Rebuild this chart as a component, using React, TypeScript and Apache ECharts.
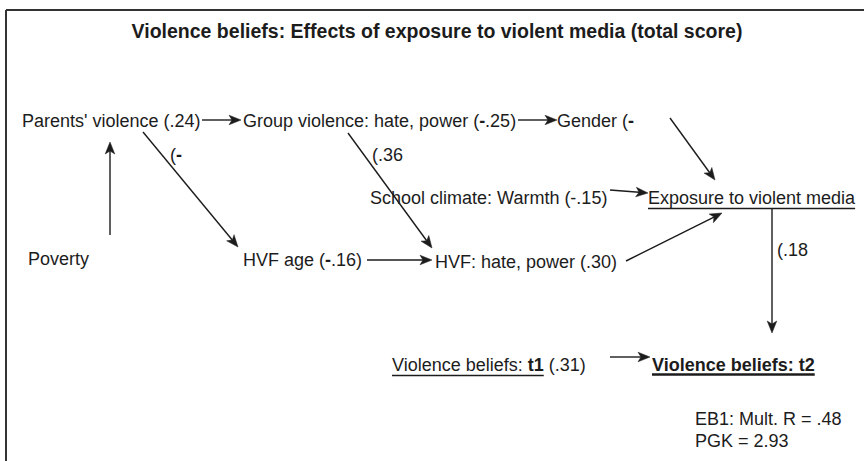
import React, { useEffect, useRef } from 'react';
import * as echarts from 'echarts';

// ---- content ----
const titleText = 'Violence beliefs: Effects of exposure to violent media (total score)';
const variables = [
  "Parents' violence",
  'Group violence: hate, power',
  'Gender',
  'School climate: Warmth',
  'Exposure to violent media',
  'Poverty',
  'HVF age',
  'HVF: hate, power',
  'Violence beliefs: t1',
  'Violence beliefs: t2',
];
const coefficients = ['(.24)', '(-.25)', '(-', '(-.15)', '', '', '(-.16)', '(.30)', '(.31)', ''];
const pathLabels = ['(-', '(.36', '(.18'];
const fitStats = ['EB1: Mult. R = .48', 'PGK = 2.93'];

// ---- layout (positions / styles only) ----
const nodePos: [number, number][] = [
  [22, 121], [243, 121], [557, 121], [370, 198], [648, 198],
  [28, 259], [243, 260], [435, 262], [392, 365], [652, 365],
];
const nodeUnderline = [false, false, false, false, true, false, false, false, true, true];
const nodeBoldAll = [false, false, false, false, false, false, false, false, false, true];
const nodeBoldLast = [false, false, false, false, false, false, false, false, true, false];
const nodeBoldHyphen = [false, true, true, false, false, false, true, false, false, false];
const pathLabelPos: [number, number][] = [[170, 155], [372, 155], [777, 250]];
const pathLabelBoldHyphen = [true, false, false];
const fitPos: [number, number][] = [[695, 419], [695, 441]];
const arrows: [number, number, number, number][] = [
  [202, 120, 241, 120],
  [518, 120, 557, 120],
  [670, 118, 715, 180],
  [610, 190, 648, 193],
  [626, 261, 722, 213],
  [772, 208, 772, 333],
  [110, 235, 110, 142],
  [143, 132, 238, 247],
  [348, 133, 432, 248],
  [367, 260, 432, 260],
  [610, 357, 650, 357],
];

const FONT = "'Liberation Sans', Arial, Helvetica, sans-serif";
const FS = 18;
const INK = '#1c1c1c';

function measure(text: string, bold: boolean): number {
  const c = document.createElement('canvas').getContext('2d')!;
  c.font = `${bold ? 'bold ' : ''}${FS}px ${FONT}`;
  return c.measureText(text).width;
}

function reg(s: string, boldHyphen: boolean): string {
  if (!s) return '';
  if (!boldHyphen) return `{r|${s}}`;
  return s
    .split('-')
    .map((p) => (p ? `{r|${p}}` : ''))
    .join('{b|-}');
}

function arrowParts(x1: number, y1: number, x2: number, y2: number) {
  const dx = x2 - x1, dy = y2 - y1;
  const L = Math.hypot(dx, dy);
  const ux = dx / L, uy = dy / L;
  const px = -uy, py = ux;
  const len = 12, w = 4.8, notch = 9;
  const bx = x2 - ux * len, by = y2 - uy * len;
  const nx = x2 - ux * notch, ny = y2 - uy * notch;
  return {
    line: { x1, y1, x2: nx, y2: ny },
    head: [[x2, y2], [bx + px * w, by + py * w], [nx, ny], [bx - px * w, by - py * w]],
  };
}

const richStyles = {
  r: { font: `${FS}px ${FONT}`, fill: INK },
  b: { font: `bold ${FS}px ${FONT}`, fill: INK },
};

export default function App() {
  const ref = useRef<HTMLDivElement>(null);
  useEffect(() => {
    if (!ref.current) return;
    const chart = echarts.init(ref.current, null, { renderer: 'svg' });
    const els: any[] = [];

    // frame
    els.push({ type: 'line', shape: { x1: 6, y1: 10, x2: 864, y2: 10 }, style: { stroke: '#333', lineWidth: 2 } });
    els.push({ type: 'line', shape: { x1: 6, y1: 10, x2: 6, y2: 461 }, style: { stroke: '#333', lineWidth: 2 } });

    // title
    els.push({
      type: 'text', x: 437, y: 31,
      style: { text: titleText, font: `bold 19.5px ${FONT}`, fill: INK, align: 'center', verticalAlign: 'middle' },
    });

    variables.forEach((label, i) => {
      const [x, y] = nodePos[i];
      const coef = coefficients[i];
      let rich = '';
      let ulWidth = 0;
      if (nodeBoldAll[i]) {
        rich = `{b|${label}}`;
        ulWidth = measure(label, true);
      } else if (nodeBoldLast[i]) {
        const k = label.lastIndexOf(' ');
        const pre = label.slice(0, k + 1), last = label.slice(k + 1);
        rich = `{r|${pre}}{b|${last}}` + (coef ? `{r| ${coef}}` : '');
        ulWidth = measure(pre, false) + measure(last, true);
      } else {
        rich = `{r|${label}${coef ? ' ' : ''}}` + reg(coef, nodeBoldHyphen[i]);
        ulWidth = measure(label, false);
      }
      els.push({
        type: 'text', x, y,
        style: { text: rich, align: 'left', verticalAlign: 'middle', rich: richStyles },
      });
      if (nodeUnderline[i]) {
        const uy = nodeBoldAll[i] ? y + 9.5 : y + 10.5;
        els.push({
          type: 'line',
          shape: { x1: x, y1: uy, x2: x + ulWidth, y2: uy },
          style: { stroke: INK, lineWidth: nodeBoldAll[i] ? 2.5 : 1.6 },
        });
      }
    });

    pathLabels.forEach((t, i) => {
      els.push({
        type: 'text', x: pathLabelPos[i][0], y: pathLabelPos[i][1],
        style: { text: reg(t, pathLabelBoldHyphen[i]), align: 'left', verticalAlign: 'middle', rich: richStyles },
      });
    });
    fitStats.forEach((t, i) => {
      els.push({
        type: 'text', x: fitPos[i][0], y: fitPos[i][1],
        style: { text: t, font: `${FS}px ${FONT}`, fill: INK, align: 'left', verticalAlign: 'middle' },
      });
    });

    arrows.forEach(([x1, y1, x2, y2]) => {
      const p = arrowParts(x1, y1, x2, y2);
      els.push({ type: 'line', shape: p.line, style: { stroke: INK, lineWidth: 1.4 } });
      els.push({ type: 'polygon', shape: { points: p.head }, style: { fill: INK, stroke: INK, lineWidth: 0.5 } });
    });

    chart.setOption({
      animation: false,
      backgroundColor: '#ffffff',
      graphic: { elements: els },
    });
    return () => chart.dispose();
  }, []);
  return (
    <div
      ref={ref}
      style={{ position: 'fixed', left: 0, top: 0, width: 864, height: 461, background: '#fff' }}
    />
  );
}
